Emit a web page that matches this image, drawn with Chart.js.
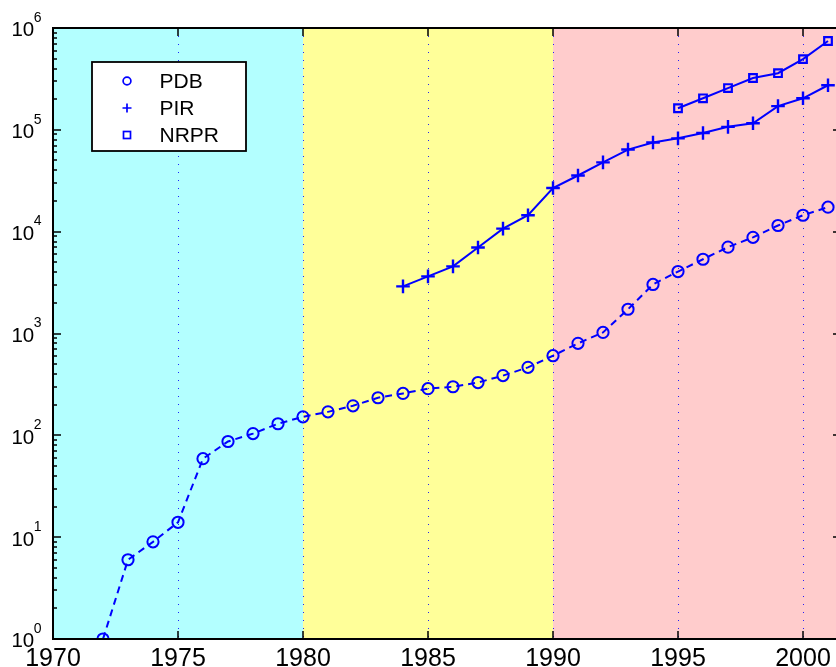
<!DOCTYPE html>
<html>
<head>
<meta charset="utf-8">
<script src="https://cdn.jsdelivr.net/npm/chart.js@4.4.1/dist/chart.umd.min.js"></script>
<style>
  html, body { margin: 0; padding: 0; background: #fff; overflow: hidden; }
  #wrap { width: 836px; height: 667px; }
</style>
</head>
<body>
<div id="wrap"><canvas id="growth" width="836" height="667"></canvas></div>
<script>
// Data ===========================================
const pdbYears = [1972, 1973, 1974, 1975, 1976, 1977, 1978, 1979, 1980, 1981,
  1982, 1983, 1984, 1985, 1986, 1987, 1988, 1989, 1990, 1991,
  1992, 1993, 1994, 1995, 1996, 1997, 1998, 1999, 2000, 2001];
const pdbCounts = [1, 6, 9, 14, 59, 87, 104, 130, 152, 170,
  195, 234, 258, 287, 300, 330, 386, 465, 605, 800,
  1025, 1730, 3030, 4060, 5360, 7050, 8800, 11500, 14500, 17400];

const pirYears = [1984, 1985, 1986, 1987, 1988, 1989, 1990, 1991, 1992,
  1993, 1994, 1995, 1996, 1997, 1998, 1999, 2000, 2001];
const pirCounts = [2900, 3640, 4560, 7000, 10700, 14500, 26800, 35600, 47900,
  64000, 75000, 82500, 93000, 107000, 116000, 171000, 204000, 274000];

const nrprYears = [1995, 1996, 1997, 1998, 1999, 2000, 2001];
const nrprCounts = [163000, 204000, 257000, 323000, 360000, 495000, 745000];

const seriesNames = ["PDB", "PIR", "NRPR"];

// axis extents and ticks (the figure is cropped on the right)
const xMin = 1970;
const xMax = 2001.32;
const xFrameEnd = 2001.52; // right-hand axis sits just past the crop
const xTickYears = [1970, 1975, 1980, 1985, 1990, 1995, 2000];
const yExponents = [0, 1, 2, 3, 4, 5, 6];

// shaded decades
const eraBounds = [1970, 1980, 1990, xMax];
const eraColors = ["#b3ffff", "#ffff99", "#ffcccc"];

const BLUE = "#0000ff";
const FONT = "'Liberation Sans', Arial, Helvetica, sans-serif";

function toPoints(xs, ys) {
  return xs.map((v, i) => ({ x: v, y: ys[i] }));
}

// Background bands ==================================
const eraShading = {
  id: "eraShading",
  beforeDraw(chart) {
    const { ctx, chartArea: { top, bottom }, scales: { x } } = chart;
    ctx.save();
    for (let i = 0; i < eraColors.length; i++) {
      const x0 = x.getPixelForValue(eraBounds[i]);
      const x1 = x.getPixelForValue(eraBounds[i + 1]);
      ctx.fillStyle = eraColors[i];
      ctx.fillRect(x0, top, x1 - x0, bottom - top);
    }
    ctx.restore();
  },
};

// Frame, inward ticks, labels (matlab look) ==========
const matlabAxes = {
  id: "matlabAxes",
  afterDraw(chart) {
    const { ctx, chartArea: { top, bottom, left }, scales: { x, y } } = chart;
    const right = x.getPixelForValue(xFrameEnd);
    ctx.save();
    ctx.strokeStyle = "#000";
    ctx.lineWidth = 1.5;
    ctx.beginPath();
    x.ticks.forEach((t) => {
      const px = Math.round(x.getPixelForValue(t.value));
      ctx.moveTo(px, bottom); ctx.lineTo(px, bottom - 8);
      ctx.moveTo(px, top); ctx.lineTo(px, top + 8);
    });
    y.ticks.forEach((t) => {
      const e = Math.floor(Math.log10(t.value) + 1e-9);
      const m = t.value / Math.pow(10, e);
      if (Math.abs(m - Math.round(m)) > 1e-6) return;
      const len = Math.round(m) === 1 ? 8 : 4;
      const py = Math.round(y.getPixelForValue(t.value));
      ctx.moveTo(left, py); ctx.lineTo(left + len, py);
      ctx.moveTo(right, py); ctx.lineTo(right - len, py);
    });
    ctx.stroke();

    ctx.lineWidth = 2;
    ctx.strokeRect(left, top, right - left, bottom - top);

    // x labels
    ctx.fillStyle = "#000";
    ctx.textBaseline = "alphabetic";
    ctx.font = "25px " + FONT;
    ctx.textAlign = "center";
    x.ticks.forEach((t) => {
      ctx.fillText(String(t.value), x.getPixelForValue(t.value), bottom + 27);
    });

    // y labels 10^n
    yExponents.forEach((e) => {
      const py = y.getPixelForValue(Math.pow(10, e));
      ctx.font = "20.5px " + FONT;
      ctx.textAlign = "right";
      ctx.fillText("10", 34.2, py + 8.4);
      ctx.font = "14px " + FONT;
      ctx.textAlign = "left";
      ctx.fillText(String(e), 33.7, py - 6.3);
    });

    // legend box
    ctx.fillStyle = "#fff";
    ctx.fillRect(92, 62, 154, 89);
    ctx.lineWidth = 1.8;
    ctx.strokeStyle = "#000";
    ctx.strokeRect(92, 62, 154, 89);

    const rows = [81, 108, 135];
    ctx.strokeStyle = BLUE;
    ctx.lineWidth = 1.7;
    const mx = 127;
    // circle
    ctx.beginPath();
    ctx.arc(mx, rows[0], 3.9, 0, Math.PI * 2);
    ctx.stroke();
    // plus
    ctx.beginPath();
    ctx.moveTo(mx - 4.5, rows[1]); ctx.lineTo(mx + 4.5, rows[1]);
    ctx.moveTo(mx, rows[1] - 4.5); ctx.lineTo(mx, rows[1] + 4.5);
    ctx.stroke();
    // square
    ctx.strokeRect(mx - 3.5, rows[2] - 3.5, 7, 7);

    ctx.fillStyle = "#000";
    ctx.font = "21px " + FONT;
    ctx.textAlign = "left";
    chart.data.datasets.forEach((ds, i) => {
      ctx.fillText(ds.label, 159.5, rows[i] + 7.3);
    });
    ctx.restore();
  },
};

// Chart =============================================
const growthChart = new Chart(document.getElementById("growth"), {
  type: "line",
  data: {
    datasets: [
      {
        label: seriesNames[0],
        data: toPoints(pdbYears, pdbCounts),
        borderColor: BLUE,
        borderWidth: 2,
        borderDash: [7, 5],
        pointStyle: "circle",
        pointRadius: 5.6,
        pointBorderWidth: 2,
        pointBorderColor: BLUE,
        pointBackgroundColor: "rgba(0,0,0,0)",
      },
      {
        label: seriesNames[1],
        data: toPoints(pirYears, pirCounts),
        borderColor: BLUE,
        borderWidth: 2,
        pointStyle: "cross",
        pointRadius: 6.8,
        pointBorderWidth: 2.4,
        pointBorderColor: BLUE,
        pointBackgroundColor: "rgba(0,0,0,0)",
      },
      {
        label: seriesNames[2],
        data: toPoints(nrprYears, nrprCounts),
        borderColor: BLUE,
        borderWidth: 2,
        pointStyle: "rect",
        pointRadius: 5.4,
        pointBorderWidth: 2.2,
        pointBorderColor: BLUE,
        pointBackgroundColor: "rgba(0,0,0,0)",
      },
    ],
  },
  options: {
    responsive: false,
    animation: false,
    devicePixelRatio: 1,
    layout: {
      autoPadding: false,
      padding: { left: 53, top: 28, right: 0, bottom: 28 },
    },
    elements: { line: { tension: 0 } },
    plugins: {
      legend: { display: false },
      tooltip: { enabled: false },
    },
    scales: {
      x: {
        type: "linear",
        min: xMin,
        max: xMax,
        afterBuildTicks(scale) {
          scale.ticks = xTickYears.map((v) => ({ value: v }));
        },
        ticks: { display: false },
        grid: {
          display: true,
          drawTicks: false,
          color: "rgba(0,0,255,0.85)",
          lineWidth: 1,
        },
        border: { display: false, dash: [1, 7] },
      },
      y: {
        type: "logarithmic",
        min: 1,
        max: 1e6,
        ticks: { display: false },
        grid: { display: false, drawTicks: false },
        border: { display: false },
      },
    },
  },
  plugins: [eraShading, matlabAxes],
});
</script>
</body>
</html>
